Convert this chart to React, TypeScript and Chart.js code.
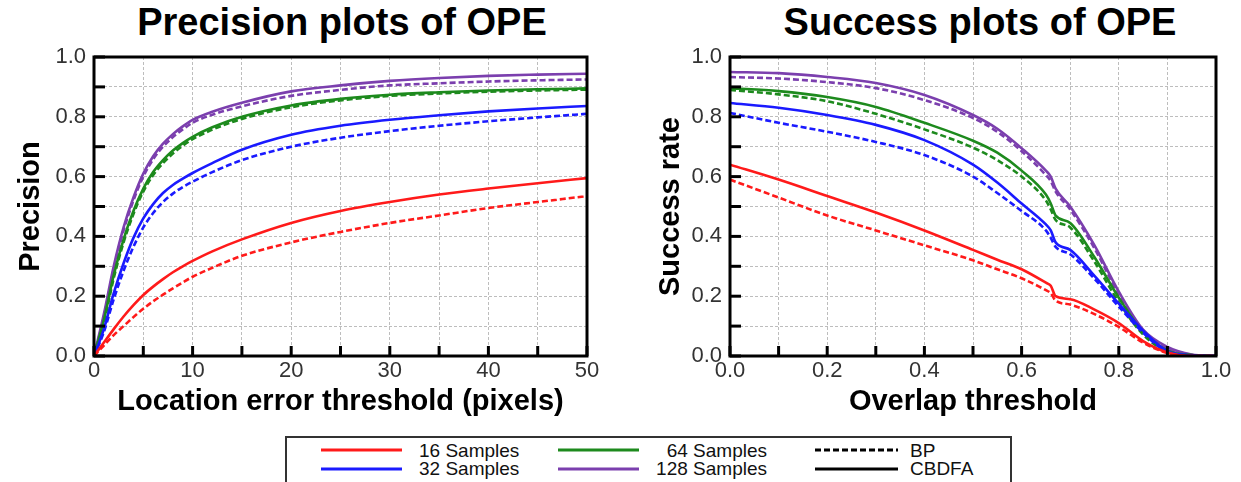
import React, { useEffect, useRef } from "react";
import { Chart, registerables } from "chart.js";

// ---------- data ----------
const precisionThresholds = [0, 1, 2, 3, 4, 5, 6, 7, 8, 9, 10, 12, 15, 20, 25, 30, 35, 40, 45, 50];
const precision16CBDFA = [0, 0.045, 0.09, 0.132, 0.17, 0.204, 0.232, 0.257, 0.28, 0.3, 0.318, 0.35, 0.39, 0.445, 0.485, 0.515, 0.54, 0.56, 0.578, 0.595];
const precision16BP = [0, 0.035, 0.07, 0.1, 0.13, 0.158, 0.183, 0.205, 0.226, 0.246, 0.265, 0.295, 0.335, 0.38, 0.415, 0.445, 0.47, 0.495, 0.515, 0.535];
const precision32CBDFA = [0, 0.09, 0.21, 0.31, 0.395, 0.46, 0.508, 0.545, 0.572, 0.593, 0.612, 0.645, 0.69, 0.74, 0.77, 0.79, 0.805, 0.818, 0.828, 0.836];
const precision32BP = [0, 0.08, 0.19, 0.285, 0.365, 0.43, 0.478, 0.515, 0.543, 0.565, 0.583, 0.615, 0.655, 0.7, 0.73, 0.752, 0.77, 0.785, 0.798, 0.81];
const precision64CBDFA = [0, 0.12, 0.27, 0.39, 0.485, 0.56, 0.615, 0.655, 0.687, 0.712, 0.733, 0.765, 0.8, 0.838, 0.86, 0.874, 0.882, 0.888, 0.892, 0.895];
const precision64BP = [0, 0.11, 0.26, 0.38, 0.475, 0.55, 0.605, 0.645, 0.677, 0.703, 0.725, 0.757, 0.793, 0.832, 0.855, 0.87, 0.878, 0.884, 0.888, 0.891];
const precision128CBDFA = [0, 0.14, 0.3, 0.43, 0.53, 0.61, 0.668, 0.71, 0.742, 0.768, 0.79, 0.817, 0.847, 0.885, 0.905, 0.92, 0.93, 0.937, 0.941, 0.944];
const precision128BP = [0, 0.13, 0.29, 0.42, 0.52, 0.6, 0.658, 0.7, 0.732, 0.758, 0.78, 0.807, 0.835, 0.87, 0.89, 0.905, 0.912, 0.918, 0.922, 0.925];

const overlapThresholds = [0, 0.1, 0.2, 0.3, 0.4, 0.5, 0.55, 0.6, 0.65, 0.66, 0.67, 0.7, 0.75, 0.8, 0.85, 0.9, 0.95, 1.0];
const success16CBDFA = [0.64, 0.59, 0.535, 0.48, 0.42, 0.355, 0.322, 0.29, 0.245, 0.235, 0.2, 0.19, 0.155, 0.11, 0.05, 0.012, 0, 0];
const success16BP = [0.59, 0.53, 0.47, 0.42, 0.37, 0.32, 0.29, 0.26, 0.22, 0.21, 0.185, 0.172, 0.14, 0.097, 0.045, 0.01, 0, 0];
const success32CBDFA = [0.846, 0.83, 0.806, 0.773, 0.722, 0.64, 0.58, 0.51, 0.44, 0.42, 0.38, 0.355, 0.268, 0.175, 0.085, 0.016, 0.002, 0];
const success32BP = [0.813, 0.78, 0.75, 0.716, 0.672, 0.6, 0.545, 0.485, 0.42, 0.395, 0.365, 0.34, 0.258, 0.165, 0.078, 0.013, 0.002, 0];
const success64CBDFA = [0.896, 0.886, 0.866, 0.833, 0.78, 0.72, 0.68, 0.62, 0.54, 0.51, 0.47, 0.445, 0.33, 0.195, 0.08, 0.018, 0.003, 0];
const success64BP = [0.89, 0.875, 0.852, 0.81, 0.758, 0.697, 0.655, 0.6, 0.52, 0.49, 0.455, 0.43, 0.315, 0.18, 0.072, 0.014, 0.002, 0];
const success128CBDFA = [0.95, 0.946, 0.933, 0.913, 0.873, 0.806, 0.76, 0.695, 0.62, 0.6, 0.56, 0.5, 0.37, 0.215, 0.088, 0.03, 0.005, 0];
const success128BP = [0.933, 0.928, 0.916, 0.896, 0.856, 0.796, 0.75, 0.685, 0.605, 0.585, 0.55, 0.49, 0.36, 0.205, 0.082, 0.025, 0.004, 0];

const sampleLabels = ["16 Samples", "32 Samples", "64 Samples", "128 Samples"];
const methodLabels = ["BP", "CBDFA"];
const precisionTickEvery = 10;
const rateTickEvery = 0.2;

// ---------- styles ----------
const FONT = "'Liberation Sans', Arial, sans-serif";
const COLORS = ["#ff1a1a", "#1a1aff", "#1d8a1d", "#7b3fae"];
const DASH = [6, 3];

const framePlugin = {
  id: "axisFrame",
  afterDraw(chart: any) {
    const { ctx, chartArea: a, scales } = chart;
    const xs = scales.x;
    const ys = scales.y;
    if (!a || !xs || !ys) return;
    ctx.save();
    ctx.setLineDash([]);
    ctx.strokeStyle = "#000";
    ctx.lineWidth = 3;
    ys.ticks.forEach((t: any) => {
      const py = ys.getPixelForValue(t.value);
      ctx.beginPath();
      ctx.moveTo(a.left, py);
      ctx.lineTo(a.left + 11, py);
      ctx.stroke();
    });
    xs.ticks.forEach((t: any) => {
      const px = xs.getPixelForValue(t.value);
      ctx.beginPath();
      ctx.moveTo(px, a.bottom);
      ctx.lineTo(px, a.bottom - 10);
      ctx.stroke();
    });
    ctx.lineWidth = 3;
    ctx.strokeRect(a.left, a.top, a.right - a.left, a.bottom - a.top);
    ctx.restore();
  },
};

Chart.register(...registerables, framePlugin);

type Series = { label: string; values: number[]; color: string; dashed: boolean };

function buildDatasets(xs: number[], series: Series[]) {
  return series.map((s) => ({
    label: s.label,
    data: xs.map((x, i) => ({ x, y: s.values[i] })),
    borderColor: s.color,
    backgroundColor: s.color,
    borderWidth: 2.6,
    borderDash: s.dashed ? DASH : [],
    pointRadius: 0,
    cubicInterpolationMode: "monotone" as const,
    fill: false,
  }));
}

type PlotProps = {
  width: number;
  height: number;
  left: number;
  xs: number[];
  series: Series[];
  xMax: number;
  xStep: number;
  xLabelEvery: number;
  xDecimals: number;
  xTitle: string;
  yTitle: string;
  yAxisWidth: number;
  yTitlePad: number;
  padRight: number;
};

function Plot(p: PlotProps) {
  const ref = useRef<HTMLCanvasElement | null>(null);
  useEffect(() => {
    if (!ref.current) return;
    const isLabel = (v: number, every: number) => {
      const r = v / every;
      return Math.abs(r - Math.round(r)) < 1e-6;
    };
    const chart = new Chart(ref.current, {
      type: "line",
      data: { datasets: buildDatasets(p.xs, p.series) as any },
      options: {
        animation: false,
        responsive: false,
        devicePixelRatio: 1,
        layout: { padding: { top: 57, right: p.padRight, left: 0, bottom: 0 } },
        plugins: { legend: { display: false }, tooltip: { enabled: false }, title: { display: false } },
        scales: {
          x: {
            type: "linear",
            min: 0,
            max: p.xMax,
            afterFit: (s: any) => {
              s.height = 74;
            },
            ticks: {
              stepSize: p.xStep,
              autoSkip: false,
              maxRotation: 0,
              padding: 2,
              color: "#333",
              font: { family: FONT, size: 22 },
              callback: (v: any) => (isLabel(Number(v), p.xLabelEvery) ? Number(v).toFixed(p.xDecimals) : ""),
            },
            grid: { color: "#bdbdbd", lineWidth: 1, drawTicks: false },
            border: { display: false, dash: [3, 2] },
            title: {
              display: true,
              text: p.xTitle,
              color: "#000",
              font: { family: FONT, size: 29, weight: "bold" },
              padding: { top: 0, bottom: 11 },
            },
          },
          y: {
            type: "linear",
            min: 0,
            max: 1,
            afterFit: (s: any) => {
              s.width = p.yAxisWidth;
            },
            ticks: {
              stepSize: 0.1,
              autoSkip: false,
              padding: 8,
              color: "#333",
              font: { family: FONT, size: 22 },
              callback: (v: any) => (isLabel(Number(v), rateTickEvery) ? Number(v).toFixed(1) : ""),
            },
            grid: { color: "#bdbdbd", lineWidth: 1, drawTicks: false },
            border: { display: false, dash: [3, 2] },
            title: {
              display: true,
              text: p.yTitle,
              color: "#000",
              font: { family: FONT, size: 29, weight: "bold" },
              padding: { top: p.yTitlePad, bottom: 0 },
            },
          },
        },
      } as any,
    });
    return () => chart.destroy();
  }, []);
  return (
    <canvas
      ref={ref}
      width={p.width}
      height={p.height}
      style={{ position: "absolute", left: p.left, top: 0, width: p.width, height: p.height }}
    />
  );
}

function LegendLine({ x1, x2, y, color, dashed }: { x1: number; x2: number; y: number; color: string; dashed?: boolean }) {
  return (
    <svg style={{ position: "absolute", left: x1, top: y - 3, overflow: "visible" }} width={x2 - x1} height={6}>
      <line x1={0} y1={3} x2={x2 - x1} y2={3} stroke={color} strokeWidth={3} strokeDasharray={dashed ? "6 3" : undefined} />
    </svg>
  );
}

function LegendText({ text, x, y, right }: { text: string; x: number; y: number; right?: boolean }) {
  const style: React.CSSProperties = {
    position: "absolute",
    top: y - 9.5,
    fontFamily: FONT,
    fontSize: 19,
    lineHeight: "19px",
    color: "#111",
    whiteSpace: "nowrap",
  };
  if (right) {
    style.right = 1241 - x;
    style.textAlign = "right";
  } else {
    style.left = x;
  }
  return <div style={style}>{text}</div>;
}

function Title({ text, cx }: { text: string; cx: number }) {
  return (
    <div
      style={{
        position: "absolute",
        left: cx - 300,
        width: 600,
        top: 3,
        textAlign: "center",
        fontFamily: FONT,
        fontWeight: "bold",
        fontSize: 38,
        lineHeight: "38px",
        color: "#000",
        whiteSpace: "nowrap",
      }}
    >
      {text}
    </div>
  );
}

export default function App() {
  const precisionSeries: Series[] = [
    { label: `${sampleLabels[0]} ${methodLabels[0]}`, values: precision16BP, color: COLORS[0], dashed: true },
    { label: `${sampleLabels[0]} ${methodLabels[1]}`, values: precision16CBDFA, color: COLORS[0], dashed: false },
    { label: `${sampleLabels[1]} ${methodLabels[0]}`, values: precision32BP, color: COLORS[1], dashed: true },
    { label: `${sampleLabels[1]} ${methodLabels[1]}`, values: precision32CBDFA, color: COLORS[1], dashed: false },
    { label: `${sampleLabels[2]} ${methodLabels[0]}`, values: precision64BP, color: COLORS[2], dashed: true },
    { label: `${sampleLabels[2]} ${methodLabels[1]}`, values: precision64CBDFA, color: COLORS[2], dashed: false },
    { label: `${sampleLabels[3]} ${methodLabels[0]}`, values: precision128BP, color: COLORS[3], dashed: true },
    { label: `${sampleLabels[3]} ${methodLabels[1]}`, values: precision128CBDFA, color: COLORS[3], dashed: false },
  ];
  const successSeries: Series[] = [
    { label: `${sampleLabels[0]} ${methodLabels[0]}`, values: success16BP, color: COLORS[0], dashed: true },
    { label: `${sampleLabels[0]} ${methodLabels[1]}`, values: success16CBDFA, color: COLORS[0], dashed: false },
    { label: `${sampleLabels[1]} ${methodLabels[0]}`, values: success32BP, color: COLORS[1], dashed: true },
    { label: `${sampleLabels[1]} ${methodLabels[1]}`, values: success32CBDFA, color: COLORS[1], dashed: false },
    { label: `${sampleLabels[2]} ${methodLabels[0]}`, values: success64BP, color: COLORS[2], dashed: true },
    { label: `${sampleLabels[2]} ${methodLabels[1]}`, values: success64CBDFA, color: COLORS[2], dashed: false },
    { label: `${sampleLabels[3]} ${methodLabels[0]}`, values: success128BP, color: COLORS[3], dashed: true },
    { label: `${sampleLabels[3]} ${methodLabels[1]}`, values: success128CBDFA, color: COLORS[3], dashed: false },
  ];

  return (
    <div style={{ position: "absolute", left: 0, top: 0, width: 1241, height: 482, overflow: "hidden", background: "#fff" }}>
      <Title text="Precision plots of OPE" cx={342} />
      <Title text="Success plots of OPE" cx={980} />
      <Plot
        width={620}
        height={430}
        left={0}
        xs={precisionThresholds}
        series={precisionSeries}
        xMax={50}
        xStep={5}
        xLabelEvery={precisionTickEvery}
        xDecimals={0}
        xTitle="Location error threshold (pixels)"
        yTitle="Precision"
        yAxisWidth={94}
        yTitlePad={14}
        padRight={33}
      />
      <Plot
        width={621}
        height={430}
        left={620}
        xs={overlapThresholds}
        series={successSeries}
        xMax={1}
        xStep={0.1}
        xLabelEvery={rateTickEvery}
        xDecimals={1}
        xTitle="Overlap threshold"
        yTitle="Success rate"
        yAxisWidth={110}
        yTitlePad={34}
        padRight={25}
      />
      <div
        style={{
          position: "absolute",
          left: 285,
          top: 436,
          width: 727,
          height: 80,
          border: "2px solid #333",
          boxSizing: "border-box",
        }}
      />
      <LegendLine x1={321} x2={402} y={450} color={COLORS[0]} />
      <LegendLine x1={321} x2={402} y={468.5} color={COLORS[1]} />
      <LegendLine x1={558} x2={639} y={450} color={COLORS[2]} />
      <LegendLine x1={558} x2={639} y={468.5} color={COLORS[3]} />
      <LegendLine x1={815} x2={898} y={450} color="#000" dashed />
      <LegendLine x1={815} x2={898} y={468.5} color="#000" />
      <LegendText text={sampleLabels[0]} x={419} y={450} />
      <LegendText text={sampleLabels[1]} x={419} y={468.5} />
      <LegendText text={sampleLabels[2]} x={767} y={450} right />
      <LegendText text={sampleLabels[3]} x={767} y={468.5} right />
      <LegendText text={methodLabels[0]} x={910} y={450} />
      <LegendText text={methodLabels[1]} x={910} y={468.5} />
    </div>
  );
}
